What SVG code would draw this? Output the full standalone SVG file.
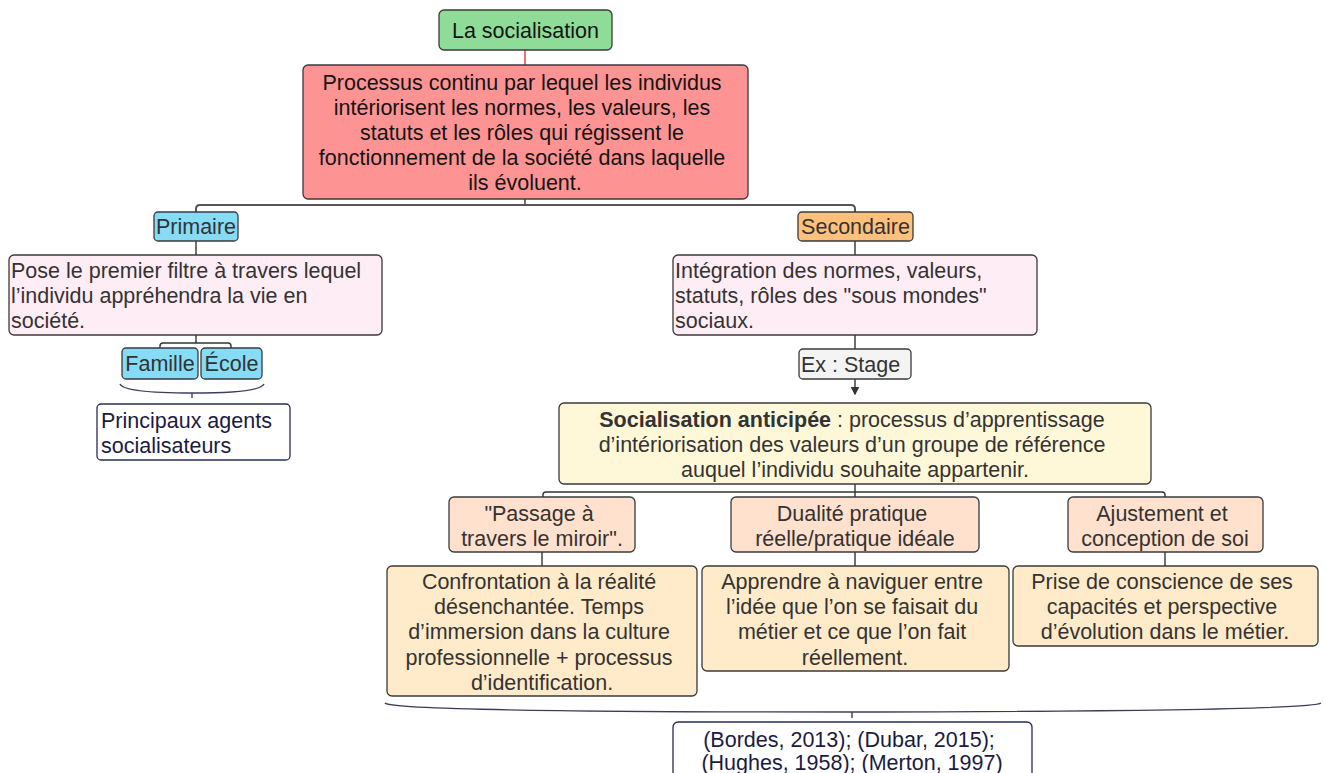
<svg xmlns="http://www.w3.org/2000/svg" width="1325" height="773" viewBox="0 0 1325 773">
  <defs>
    <style>
      text { font-family: "Liberation Sans", Arial, sans-serif; font-size: 21.5px; fill: #333; }
      .c { text-anchor: middle; }
      .dark { fill: #141414; }
      .navy { fill: #1b1b3f; }
      .box { stroke: #3a3a3a; stroke-width: 1.3; }
      .wire { fill: none; stroke: #333; stroke-width: 1.4; }
      .brace { fill: none; stroke: #3c3c5c; stroke-width: 1.4; }
      .green { fill: #8fdc98; }
      .red { fill: #fe9393; }
      .blue { fill: #86dbf5; }
      .orange { fill: #ffc07c; }
      .pink { fill: #ffedf6; }
      .grey { fill: #f4f4f4; }
      .yellow { fill: #fff8d8; }
      .peach { fill: #ffe1cd; }
      .cream { fill: #ffebc9; }
      .note { fill: #ffffff; stroke: #2c2c55; stroke-width: 1.3; }
    </style>
    <marker id="arrow" viewBox="0 0 6 6" refX="5" refY="3" markerWidth="6" markerHeight="6" orient="auto">
      <path d="M0,0 L6,3 L0,6 z" fill="#333"/>
    </marker>
  </defs>

  <!-- connectors -->
  <g id="connectors">
    <line x1="525" y1="50" x2="525" y2="65" stroke="#e33" stroke-width="1.4"/>
    <line x1="525" y1="199" x2="525" y2="205" class="wire"/>
    <path d="M196,212 V209 Q196,205 200,205 H851 Q855,205 855,209 V212" fill="none" stroke="#555" stroke-width="2"/>
    <line x1="196" y1="241" x2="196" y2="255" class="wire"/>
    <line x1="196" y1="335" x2="196" y2="343" class="wire"/>
    <path d="M160,348 V346 Q160,343 163,343 H228 Q231,343 231,346 V348" class="wire"/>
    <line x1="855" y1="241" x2="855" y2="255" class="wire"/>
    <line x1="855" y1="335" x2="855" y2="349" class="wire"/>
    <line x1="855" y1="379" x2="855" y2="394" class="wire" stroke-width="1.1" marker-end="url(#arrow)"/>
    <line x1="855" y1="484" x2="855" y2="497" class="wire"/>
    <path d="M543,497 V495 Q543,492 546,492 H1162 Q1165,492 1165,495 V497" class="wire"/>
    <line x1="542" y1="552" x2="542" y2="566" class="wire"/>
    <line x1="855" y1="552" x2="855" y2="566" class="wire"/>
    <line x1="1165" y1="552" x2="1165" y2="566" class="wire"/>
    <!-- braces -->
    <path d="M120,384 Q124,393 192,393 Q260,393 264,384" class="brace"/>
    <line x1="192" y1="393" x2="192" y2="398" class="brace"/>
    <path d="M385,703 Q392,712 852,712 Q1312,711 1321,703" class="brace"/>
    <line x1="852" y1="712" x2="852" y2="718" class="brace"/>
  </g>

  <g id="n-socialisation">
    <rect x="439" y="10" width="173" height="40" rx="5" class="box green"/>
    <text x="525.5" y="38" class="c dark">La socialisation</text>
  </g>

  <g id="n-definition">
    <rect x="303" y="65" width="445" height="134" rx="5" class="box red"/>
    <text class="c dark">
      <tspan x="525" y="90">Processus continu par lequel les individus</tspan>
      <tspan x="525" y="115">intériorisent les normes, les valeurs, les</tspan>
      <tspan x="525" y="140">statuts et les rôles qui régissent le</tspan>
      <tspan x="525" y="165">fonctionnement de la société dans laquelle</tspan>
      <tspan x="525" y="190">ils évoluent.</tspan>
    </text>
  </g>

  <g id="n-primaire">
    <rect x="154" y="212" width="84" height="29" rx="4" class="box blue"/>
    <text x="196" y="234" class="c">Primaire</text>
  </g>

  <g id="n-primaire-def">
    <rect x="9" y="255" width="373" height="80" rx="5" class="box pink"/>
    <text>
      <tspan x="11" y="278">Pose le premier filtre à travers lequel</tspan>
      <tspan x="11" y="303">l’individu appréhendra la vie en</tspan>
      <tspan x="11" y="328">société.</tspan>
    </text>
  </g>

  <g id="n-famille">
    <rect x="122" y="348" width="76" height="31" rx="4" class="box blue"/>
    <text x="160" y="371" class="c">Famille</text>
  </g>

  <g id="n-ecole">
    <rect x="201" y="348" width="61" height="31" rx="4" class="box blue"/>
    <text x="231.5" y="371" class="c">École</text>
  </g>

  <g id="n-agents">
    <rect x="97" y="404" width="193" height="56" rx="4" class="note"/>
    <text class="navy">
      <tspan x="101" y="428">Principaux agents</tspan>
      <tspan x="101" y="453">socialisateurs</tspan>
    </text>
  </g>

  <g id="n-secondaire">
    <rect x="798" y="212" width="115" height="29" rx="4" class="box orange"/>
    <text x="855.5" y="234" class="c">Secondaire</text>
  </g>

  <g id="n-secondaire-def">
    <rect x="673" y="255" width="364" height="80" rx="5" class="box pink"/>
    <text>
      <tspan x="675" y="278">Intégration des normes, valeurs,</tspan>
      <tspan x="675" y="303">statuts, rôles des "sous mondes"</tspan>
      <tspan x="675" y="328">sociaux.</tspan>
    </text>
  </g>

  <g id="n-stage">
    <rect x="799" y="349" width="112" height="30" rx="4" class="box grey"/>
    <text x="801" y="372">Ex : Stage</text>
  </g>

  <g id="n-anticipee">
    <rect x="559" y="403" width="592" height="81" rx="5" class="box yellow"/>
    <text class="c">
      <tspan x="855" y="427"><tspan font-weight="bold">Socialisation anticipée</tspan> : processus d’apprentissage</tspan>
      <tspan x="855" y="452">d’intériorisation des valeurs d’un groupe de référence</tspan>
      <tspan x="855" y="477">auquel l’individu souhaite appartenir.</tspan>
    </text>
  </g>

  <g id="n-miroir">
    <rect x="449" y="497" width="186" height="55" rx="5" class="box peach"/>
    <text class="c">
      <tspan x="542" y="521">"Passage à</tspan>
      <tspan x="542" y="546">travers le miroir".</tspan>
    </text>
  </g>

  <g id="n-dualite">
    <rect x="731" y="497" width="248" height="55" rx="5" class="box peach"/>
    <text class="c">
      <tspan x="855" y="521">Dualité pratique</tspan>
      <tspan x="855" y="546">réelle/pratique idéale</tspan>
    </text>
  </g>

  <g id="n-ajustement">
    <rect x="1068" y="497" width="195" height="55" rx="5" class="box peach"/>
    <text class="c">
      <tspan x="1165" y="521">Ajustement et</tspan>
      <tspan x="1165" y="546">conception de soi</tspan>
    </text>
  </g>

  <g id="n-confrontation">
    <rect x="387" y="566" width="310" height="130" rx="5" class="box cream"/>
    <text class="c">
      <tspan x="542" y="589">Confrontation à la réalité</tspan>
      <tspan x="542" y="614">désenchantée. Temps</tspan>
      <tspan x="542" y="639">d’immersion dans la culture</tspan>
      <tspan x="542" y="665">professionnelle + processus</tspan>
      <tspan x="542" y="690">d’identification.</tspan>
    </text>
  </g>

  <g id="n-apprendre">
    <rect x="702" y="566" width="307" height="105" rx="5" class="box cream"/>
    <text class="c">
      <tspan x="855" y="589">Apprendre à naviguer entre</tspan>
      <tspan x="855" y="614">l’idée que l’on se faisait du</tspan>
      <tspan x="855" y="639">métier et ce que l’on fait</tspan>
      <tspan x="855" y="665">réellement.</tspan>
    </text>
  </g>

  <g id="n-prise">
    <rect x="1013" y="566" width="305" height="80" rx="5" class="box cream"/>
    <text class="c">
      <tspan x="1165" y="589">Prise de conscience de ses</tspan>
      <tspan x="1165" y="614">capacités et perspective</tspan>
      <tspan x="1165" y="639">d’évolution dans le métier.</tspan>
    </text>
  </g>

  <g id="n-references">
    <rect x="673" y="722" width="359" height="62" rx="5" class="note"/>
    <text class="c navy" font-size="20.5">
      <tspan x="852" y="747">(Bordes, 2013); (Dubar, 2015);</tspan>
      <tspan x="852" y="770">(Hughes, 1958); (Merton, 1997)</tspan>
    </text>
  </g>
</svg>
